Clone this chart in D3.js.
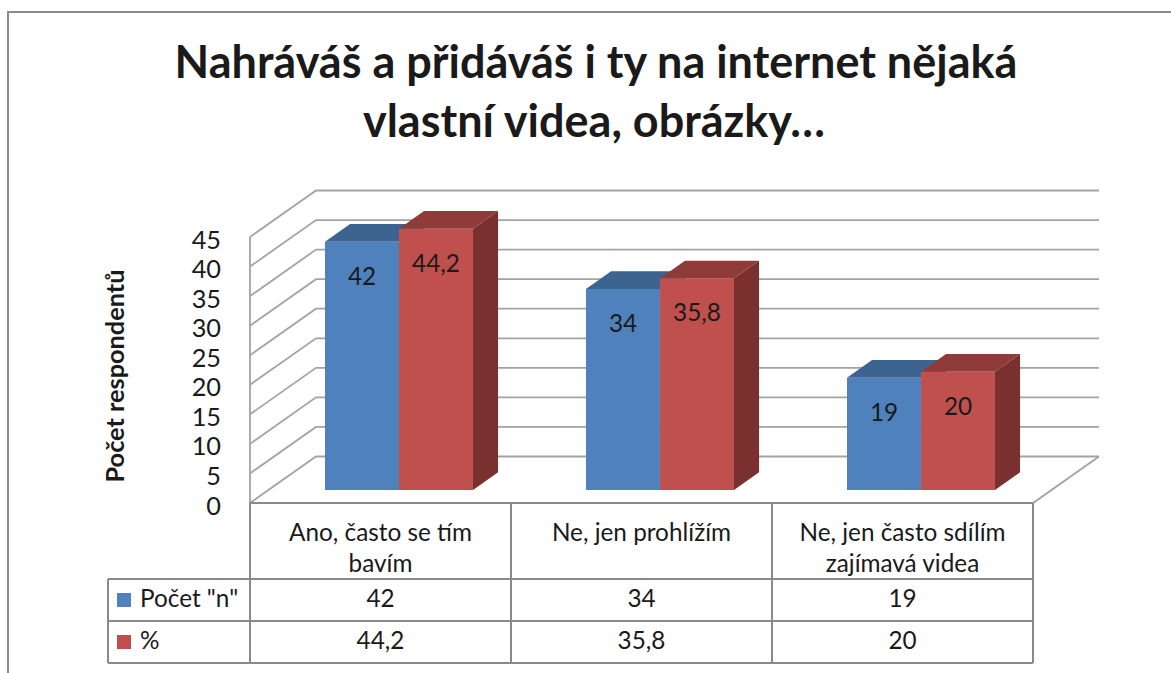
<!DOCTYPE html>
<html>
<head>
<meta charset="utf-8">
<script src="https://cdn.jsdelivr.net/npm/d3@7"></script>
<style>
  body { margin: 0; background: #fff; }
  svg text { font-family: Lato, "Open Sans", sans-serif; fill: #1a1a1a; }
</style>
</head>
<body>
<svg id="chart" width="1171" height="673"></svg>
<script>
// data
var categories = ["Ano, často se tím\nbavím", "Ne, jen prohlížím", "Ne, jen často sdílím\nzajímavá videa"];
var seriesNames = ['Počet "n"', '%'];
var countValues = [42, 34, 19];
var percentValues = [44.2, 35.8, 20];
var titleLines = ["Nahráváš a přidáváš i ty na internet nějaká", "vlastní videa, obrázky…"];
var yAxisTitle = "Počet respondentů";
var yMax = 45;

var series = [countValues, percentValues];
var colors = [
  {front: '#4f81bd', top: '#3d6391', side: '#385d8a'},
  {front: '#c0504d', top: '#8f3b39', side: '#79302e'}
];
var czFormat = d3.formatLocale({decimal: ',', thousands: ' ', grouping: [3], currency: ['', '']}).format('~f');

var svg = d3.select('#chart');
var gridColor = '#a3a3a3', tableColor = '#8a8a8a';

// front plane of the 3d box, and the depth offset to the back wall
var x = d3.scaleBand().domain(d3.range(categories.length)).range([250, 1033])
  .paddingInner(0.433).paddingOuter(0.2165);
var xs = d3.scaleBand().domain(d3.range(series.length)).range([0, x.bandwidth()]);
var y = d3.scaleLinear().domain([0, yMax]).range([503, 237]);
var depth = {dx: 66, dy: -46.5};
var barD0 = 0.28, barD1 = 0.66;

function proj(px, v, d) {
  return [px + d * depth.dx, y(v) + d * depth.dy];
}
function poly(pts) {
  return pts.map(function(p) { return p.join(','); }).join(' ');
}
// scale font size so the text gets a given width
function fitText(sel, target, start) {
  sel.style('font-size', start + 'px');
  var w = sel.node().getComputedTextLength();
  var size = start * target / w;
  sel.style('font-size', size + 'px');
  return size;
}

// outer frame
svg.append('path').attr('d', 'M8,680V12H1180').attr('fill', 'none')
  .attr('stroke', '#8c8c8c').attr('stroke-width', 2);

// title
var t1 = svg.append('text').attr('x', 596).attr('y', 78).attr('text-anchor', 'middle')
  .style('font-weight', 'bold').text(titleLines[0]);
var titleSize = fitText(t1, 843, 38);
svg.append('text').attr('x', 594).attr('y', 137).attr('text-anchor', 'middle')
  .style('font-weight', 'bold').style('font-size', titleSize + 'px').text(titleLines[1]);

// body font size from the first category label width
var probe = svg.append('text').text(categories[0].split('\n')[0]);
var bodySize = fitText(probe, 183, 20);
probe.remove();

// walls and gridlines
var ticks = y.ticks(9);
var grid = svg.append('g').attr('stroke', gridColor).attr('stroke-width', 1.8).attr('fill', 'none');
ticks.forEach(function(v) {
  var a = proj(250, v, 0), b = proj(250, v, 1), c = proj(1033, v, 1);
  grid.append('polyline').attr('points', poly([a, b, c]));
});
grid.append('line').attr('x1', 250).attr('y1', y(yMax)).attr('x2', 250).attr('y2', y(0));
grid.append('polyline').attr('points', poly([proj(250, 0, 0), proj(1033, 0, 0), proj(1033, 0, 1)]));

// y axis labels
var yAxis = svg.append('g').attr('transform', 'translate(221,3)')
  .call(d3.axisLeft(y).tickValues(ticks).tickSize(0).tickPadding(0));
yAxis.select('.domain').remove();
yAxis.selectAll('text').attr('font-family', null).style('font-size', (bodySize + 1) + 'px').attr('fill', '#1a1a1a');

var yt = svg.append('text').attr('transform', 'translate(124,376) rotate(-90)')
  .attr('text-anchor', 'middle').style('font-weight', 'bold').text(yAxisTitle);
fitText(yt, 213, 20);

// bars
var bars = svg.append('g');
categories.forEach(function(c, i) {
  series.forEach(function(vals, s) {
    var v = vals[i];
    var x0 = x(i) + xs(s), x1 = x0 + xs.bandwidth();
    bars.append('polygon').attr('fill', colors[s].side)
      .attr('points', poly([proj(x1, 0, barD0), proj(x1, 0, barD1), proj(x1, v, barD1), proj(x1, v, barD0)]));
    bars.append('polygon').attr('fill', colors[s].top)
      .attr('points', poly([proj(x0, v, barD0), proj(x1, v, barD0), proj(x1, v, barD1), proj(x0, v, barD1)]));
    bars.append('polygon').attr('fill', colors[s].front)
      .attr('points', poly([proj(x0, 0, barD0), proj(x1, 0, barD0), proj(x1, v, barD0), proj(x0, v, barD0)]));
    var top = proj((x0 + x1) / 2, v, barD0);
    bars.append('text').attr('x', top[0]).attr('y', top[1] + 43).attr('text-anchor', 'middle')
      .style('font-size', bodySize + 'px').text(czFormat(v));
  });
});

// data table under the chart
var rowY = [503, 579, 621, 663];
var colX = d3.range(categories.length + 1).map(function(k) { return 250 + k * x.step(); });
var table = svg.append('g').attr('stroke', tableColor).attr('stroke-width', 2);
table.append('line').attr('x1', colX[0]).attr('x2', colX[colX.length - 1]).attr('y1', rowY[0]).attr('y2', rowY[0]);
rowY.slice(1).forEach(function(ry) {
  table.append('line').attr('x1', 108).attr('x2', colX[colX.length - 1]).attr('y1', ry).attr('y2', ry);
});
table.append('line').attr('x1', 108).attr('x2', 108).attr('y1', rowY[1]).attr('y2', rowY[3]);
colX.forEach(function(cx) {
  table.append('line').attr('x1', cx).attr('x2', cx).attr('y1', rowY[0]).attr('y2', rowY[3]);
});

categories.forEach(function(c, i) {
  var cx = x(i) + x.bandwidth() / 2;
  c.split('\n').forEach(function(line, k) {
    svg.append('text').attr('x', cx).attr('y', 541 + k * 31).attr('text-anchor', 'middle')
      .style('font-size', bodySize + 'px').text(line);
  });
});

series.forEach(function(vals, s) {
  var cy = (rowY[s + 1] + rowY[s + 2]) / 2;
  svg.append('rect').attr('x', 117).attr('y', cy - 7).attr('width', 14).attr('height', 14)
    .attr('fill', colors[s].front);
  svg.append('text').attr('x', 140).attr('y', cy + 7).style('font-size', bodySize + 'px').text(seriesNames[s]);
  vals.forEach(function(v, i) {
    svg.append('text').attr('x', x(i) + x.bandwidth() / 2).attr('y', cy + 7).attr('text-anchor', 'middle')
      .style('font-size', bodySize + 'px').text(czFormat(v));
  });
});
</script>
</body>
</html>
